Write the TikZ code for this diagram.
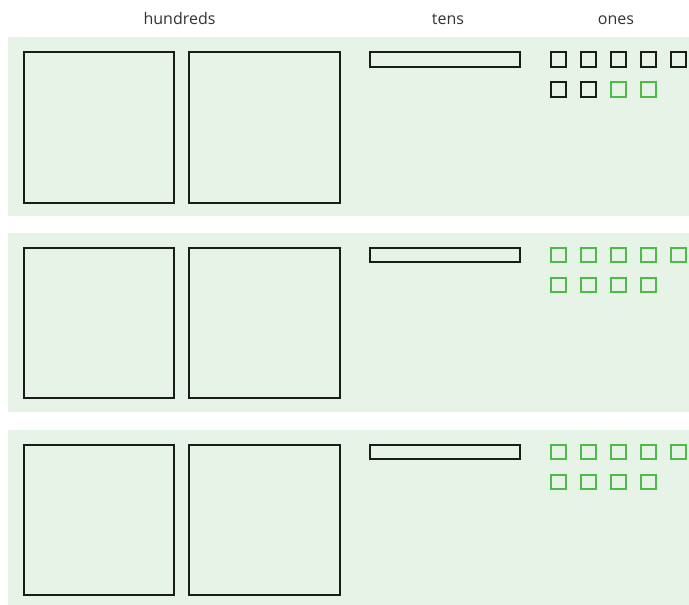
\documentclass[tikz,border=0pt]{standalone}
\usepackage{fontspec}
\setmainfont{Open Sans}
\definecolor{panelbg}{RGB}{232,243,232}
\definecolor{blockk}{RGB}{26,28,26}
\definecolor{blockg}{RGB}{78,186,72}
\definecolor{labelc}{RGB}{51,51,51}
\begin{document}
\begin{tikzpicture}[x=1pt,y=-1pt,
  panel/.style={fill=panelbg,draw=none},
  blk/.style={draw=blockk,line width=2pt},
  grn/.style={draw=blockg,line width=2pt},
  lbl/.style={anchor=base,text=labelc,font=\fontsize{16}{19}\selectfont,inner sep=0pt}]
\useasboundingbox (0,0) rectangle (689,605);
\fill[white] (0,0) rectangle (689,605);
% labels
\node[lbl] (lh) at (179.5,24) {hundreds};
\node[lbl] (lt) at (448,24) {tens};
\node[lbl] (lo) at (616,24) {ones};
% panels
\foreach \T/\k in {37/1,232.5/2,429.5/3}{
  \fill[panel] (8.3,\T) rectangle (700,\T+179);
  \draw[blk] (23.5,\T+15) rectangle +(150.5,150.5);
  \draw[blk] (189,\T+15) rectangle +(150.5,150.5);
  \draw[blk] (370,\T+15) rectangle +(150,14.5);
}
% ones, panel 1
\foreach \i in {0,...,4}{\draw[blk] (551+30*\i,52) rectangle +(14.5,14.5);}
\foreach \i in {0,1}{\draw[blk] (551+30*\i,82) rectangle +(14.5,14.5);}
\foreach \i in {2,3}{\draw[grn] (551+30*\i,82) rectangle +(14.5,14.5);}
% ones, panels 2 and 3
\foreach \T in {232.5,429.5}{
  \foreach \i in {0,...,4}{\draw[grn] (551+30*\i,\T+15) rectangle +(14.5,14.5);}
  \foreach \i in {0,...,3}{\draw[grn] (551+30*\i,\T+45) rectangle +(14.5,14.5);}
}
\end{tikzpicture}
\end{document}
